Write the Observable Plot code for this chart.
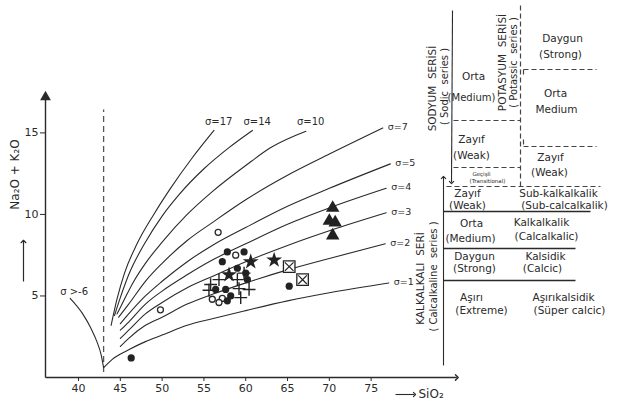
<!DOCTYPE html>
<html><head><meta charset="utf-8">
<script src="https://cdn.jsdelivr.net/npm/d3@7"></script>
<script src="https://cdn.jsdelivr.net/npm/@observablehq/plot@0.6"></script>
<style>
html,body{margin:0;padding:0;background:#fff;}
#wrap{position:relative;width:619px;height:402px;background:#fff;overflow:hidden;}
#wrap svg{position:absolute;left:0;top:0;}
</style></head>
<body><div id="wrap"></div>
<script>
// ---------- DATA ----------
const xTicks = [40, 45, 50, 55, 60, 65, 70, 75];
const yTicks = [5, 10, 15];
const xDomain = [36.05, 85.45];
const yDomain = [0, 17.6];
const dashedSiO2 = 43;

// Rittmann sigma curves: [SiO2, Na2O+K2O] points
const sigma17 = [[43.9,3.2],[44.6,4.8],[45.5,6.4],[47,8.2],[49,10.0],[51,11.6],[53.5,13.4],[56.2,15.15]];
const sigma14 = [[44.3,3.8],[45,4.9],[46,6.3],[48,8.3],[50,9.9],[52,11.2],[55,12.8],[58,14.1],[60.8,15.15]];
const sigma10 = [[44.6,3.9],[45.3,4.6],[46.5,5.8],[48,7.0],[50,8.3],[53,10.0],[56,11.4],[60,13.0],[63,14.1],[67.2,15.1]];
const sigma7  = [[44.8,3.7],[46,4.5],[48,5.9],[50,7.0],[53,8.4],[56,9.5],[60,10.9],[65,12.4],[70,13.7],[76.4,15.3]];
const sigma5  = [[45,3.3],[46,3.9],[48,5.0],[50,5.9],[53,7.1],[56,8.1],[60,9.2],[65,10.5],[70,11.6],[77.3,13.1]];
const sigma4  = [[45,2.9],[46,3.4],[48,4.5],[50,5.3],[53,6.3],[56,7.2],[60,8.2],[65,9.4],[70,10.4],[76.8,11.6]];
const sigma3  = [[45,2.4],[46,2.9],[48,3.9],[50,4.6],[53,5.5],[56,6.2],[60,7.1],[65,8.1],[70,9.0],[76.8,10.1]];
const sigma2  = [[45,1.9],[46,2.4],[48,3.2],[50,3.7],[53,4.5],[56,5.1],[60,5.8],[65,6.6],[70,7.3],[76.7,8.2]];
const sigma1  = [[43,0.6],[44,1.1],[46,1.7],[48,2.2],[50,2.6],[53,3.2],[56,3.6],[60,4.1],[65,4.7],[70,5.2],[77.1,5.8]];
const sigmaNeg6 = [[43,0.6],[42.7,1.4],[42.2,2.2],[41.5,3.0],[40.5,3.9],[39,4.85]];
const sigmaNames = ["σ=17","σ=14","σ=10","σ=7","σ=5","σ=4","σ=3","σ=2","σ=1","σ >-6"];

// samples
const filledCircles = [[46.3,1.2],[57.8,7.7],[59.8,7.7],[57.2,7.1],[59.0,6.7],[60.0,6.4],[60.2,6.0],[56.4,5.4],[57.6,5.4],[58.2,5.0],[57.8,4.7],[65.2,5.6]];
const openCircles   = [[56.7,8.9],[49.8,4.15],[58.8,7.5],[56.0,4.8],[57.2,4.85],[56.8,4.6]];
const plusMarks     = [[56.8,6.0],[55.8,5.7],[59.0,6.0],[59.8,6.4],[59.2,5.45],[60.4,5.4],[59.4,4.9],[55.6,5.35]];
const starMarks     = [[60.6,7.1],[58.0,6.3],[63.4,7.2]];
const boxMarks      = [[65.2,6.8],[66.8,6.0]];
const triangleMarks = [[70.4,10.4],[70.0,9.6],[70.7,9.5],[70.4,8.7]];

// axis titles
const yTitle = "Na₂O + K₂O";
const xTitle = "SiO₂";

// classification table texts
const tableText = [
  "SODYUM  SERİSİ", "( Sodic  series )",
  "POTASYUM  SERİSİ", "( Potassic  series )",
  "Orta", "(Medium)",
  "Daygun", "(Strong)",
  "Orta", "Medium",
  "Zayıf", "(Weak)",
  "Zayıf", "(Weak)",
  "Geçişli", "(Transitional)",
  "Zayıf", "(Weak)",
  "Sub-kalkalkalik", "(Sub-calcalkalik)",
  "Orta", "(Medium)",
  "Kalkalkalik", "(Calcalkalic)",
  "Daygun", "(Strong)",
  "Kalsidik", "(Calcic)",
  "Aşırı", "(Extreme)",
  "Aşırıkalsidik", "(Süper calcic)",
  "KALKALKALI  SERİ", "( Calcalkaline  series )"
];

// ---------- LAYOUT (pixel positions of the side table) ----------
const tableLayout = [
  [432,88,-90,10.5],[444,86,-90,10],
  [502,62,-90,10.5],[513,62,-90,10],
  [473,76,0,10.5],[471,97,0,10],
  [562,38,0,10.5],[560,54,0,10.5],
  [555,93,0,10.5],[556,109,0,10.5],
  [471,139,0,10.5],[471,155,0,10.5],
  [550,157,0,10.5],[549,172,0,10.5],
  [481,174,0,5.5],[487,181,0,5.5],
  [467,193,0,10.5],[467,205,0,10.5],
  [558,193,0,10.5],[564,205,0,10.5],
  [471,223,0,10.5],[470,238,0,10.5],
  [541,222,0,10.5],[546,236,0,10.5],
  [474,256,0,10.5],[474,268,0,10.5],
  [545,256,0,10.5],[542,268,0,10.5],
  [471,297,0,10.5],[481,310,0,10.5],
  [563,297,0,10.5],[569,310,0,10.5],
  [420,278,-90,10.5],[433,276,-90,10]
];
const solidLines = [[443,211,590,211],[443,248,575,248],[443,280,575,280]];
const arrowLines = [[452,10,451,182],[443,365,443,177]];
const dashedLines = [[520,5,520,186],[453,120,520,120],[453,167,520,167],[523,69,596,69],[523,69,523,76],[523,139,523,146],[523,146,596,146],[446,186,600,186]];

const INK = "#2a2a2a";
const FONT = "DejaVu Sans, sans-serif";

// ---------- BUILD ----------
const curves = [sigma17,sigma14,sigma10,sigma7,sigma5,sigma4,sigma3,sigma2,sigma1,sigmaNeg6];
const curveRows = curves.flatMap((pts,i)=>pts.map(p=>({s:sigmaNames[i],x:p[0],y:p[1]})));
const ends = curves.map((pts,i)=>({s:sigmaNames[i],x:pts[pts.length-1][0],y:pts[pts.length-1][1]}));
const topEnds = ends.slice(0,3), rightEnds = ends.slice(3,9), negEnd = ends.slice(9);
const pt = a => a.map(p=>({x:p[0],y:p[1]}));

const chart = Plot.plot({
  width: 619, height: 402,
  marginLeft: 45, marginRight: 161, marginTop: 90, marginBottom: 25,
  style: {background:"transparent", fontFamily: FONT, fontSize:"11px", color: INK},
  x: {domain: xDomain, label: null},
  y: {domain: yDomain, label: null},
  marks: [
    Plot.axisX({ticks: xTicks, tickSize: 4, tickPadding: 3, label: null}),
    Plot.axisY({ticks: yTicks, tickSize: 5, tickPadding: 2, label: null}),
    Plot.link([0], {x1: xDomain[0], x2: xDomain[1]-0.2, y1: 0, y2: 0, stroke: INK, strokeWidth: 1.4, markerEnd: "arrow"}),
    Plot.link([0], {x1: xDomain[0], x2: xDomain[0], y1: 0, y2: 17.2, stroke: INK, strokeWidth: 1.4}),
    Plot.dot([0], {x: xDomain[0], y: 17.2, symbol: "triangle", r: 4, fill: INK, stroke: "none"}),
    Plot.ruleX([dashedSiO2], {y1: 0.3, y2: 16.4, stroke: "#555", strokeWidth: 1.3, strokeDasharray: "6,4"}),
    Plot.line(curveRows, {x: "x", y: "y", z: "s", curve: "monotone-x", stroke: INK, strokeWidth: 1.1}),
    Plot.text(topEnds, {x: "x", y: "y", text: "s", textAnchor: "start", dx: -9, dy: -9, fontSize: 10, fill: INK}),
    Plot.text(rightEnds, {x: "x", y: "y", text: "s", textAnchor: "start", dx: 5, dy: -1, fontSize: 9.5, fill: INK}),
    Plot.text(negEnd, {x: "x", y: "y", text: "s", textAnchor: "start", dx: -10, dy: -7, fontSize: 10, fill: INK}),
    Plot.dot(pt(openCircles), {x: "x", y: "y", r: 3, stroke: INK, strokeWidth: 1.3, fill: "#fff"}),
    Plot.dot(pt(filledCircles), {x: "x", y: "y", r: 3.6, fill: "#222", stroke: "none"}),
    Plot.dot(pt(plusMarks), {x: "x", y: "y", symbol: "plus", r: 4.2, stroke: "#222", strokeWidth: 1.4}),
    Plot.dot(pt(starMarks), {x: "x", y: "y", symbol: "star", r: 5, fill: "#222", stroke: "none"}),
    Plot.dot(pt(boxMarks), {x: "x", y: "y", symbol: "square", r: 6.5, stroke: "#222", strokeWidth: 1.3, fill: "#fff"}),
    Plot.dot(pt(boxMarks), {x: "x", y: "y", symbol: "times", r: 4, stroke: "#222", strokeWidth: 1.2}),
    Plot.dot(pt(triangleMarks), {x: "x", y: "y", symbol: "triangle", r: 5, fill: "#222", stroke: "none"})
  ]
});

const tableRows = tableText.map((t,i)=>({t, x:tableLayout[i][0], y:tableLayout[i][1], r:tableLayout[i][2], f:tableLayout[i][3]}));
const lineRows = a => a.map(d=>({x1:d[0],y1:d[1],x2:d[2],y2:d[3]}));

const overlay = Plot.plot({
  width: 619, height: 402, margin: 0,
  style: {background:"transparent", fontFamily: FONT, color: INK},
  x: {domain:[0,619], range:[0,619], axis:null},
  y: {domain:[0,402], range:[0,402], axis:null},
  marks: [
    Plot.link(lineRows(solidLines), {x1:"x1",y1:"y1",x2:"x2",y2:"y2", stroke: INK, strokeWidth: 1.3}),
    Plot.link(lineRows(arrowLines), {x1:"x1",y1:"y1",x2:"x2",y2:"y2", stroke: INK, strokeWidth: 1.1, markerEnd: "arrow"}),
    Plot.link(lineRows(dashedLines), {x1:"x1",y1:"y1",x2:"x2",y2:"y2", stroke: "#444", strokeWidth: 1.2, strokeDasharray: "5,3"}),
    Plot.text(tableRows, {x:"x", y:"y", text:"t", rotate:"r", fontSize:"f", fill: INK}),
    Plot.text([yTitle], {x: 15, y: 174, text: d=>d, rotate: -90, fontSize: 12, fill: INK}),
    Plot.link([0], {x1: 23, x2: 23, y1: 281, y2: 241, stroke: INK, strokeWidth: 1.2, markerEnd: "arrow"}),
    Plot.link([0], {x1: 395, x2: 414, y1: 394, y2: 394, stroke: INK, strokeWidth: 1.1, markerEnd: "arrow"}),
    Plot.text([xTitle], {x: 418, y: 394, text: d=>d, textAnchor: "start", fontSize: 12, fill: INK})
  ]
});

const wrap = document.getElementById("wrap");
wrap.appendChild(chart);
wrap.appendChild(overlay);
</script>
</body></html>
